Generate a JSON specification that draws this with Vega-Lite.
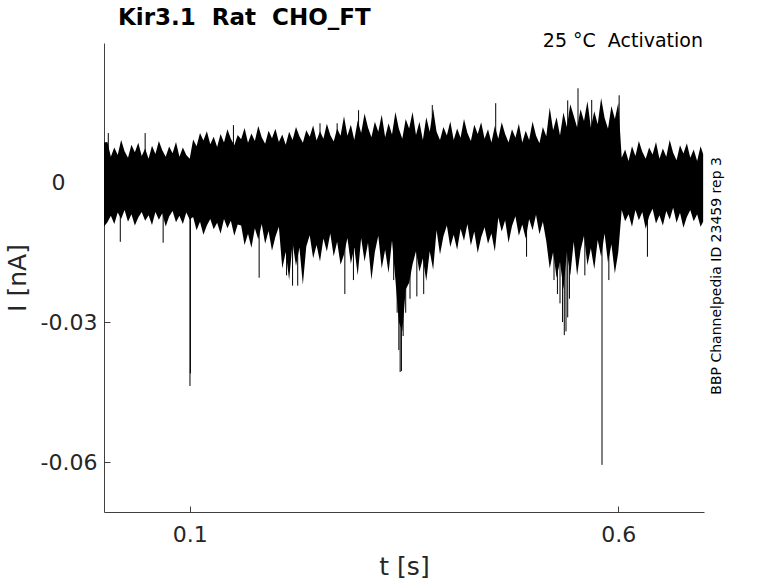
{
  "$schema": "https://vega.github.io/schema/vega-lite/v6.json",
  "width": 600,
  "height": 469,
  "autosize": {"type": "none"},
  "padding": {"left": 104, "top": 43, "right": 74, "bottom": 71},
  "background": "white",
  "title": {
    "text": "Kir3.1\u00a0\u00a0Rat\u00a0\u00a0CHO_FT",
    "anchor": "start",
    "frame": "group",
    "dx": 14,
    "offset": 2,
    "fontSize": 23,
    "fontWeight": "bold",
    "color": "black"
  },
  "datasets": {
    "band": [
      {"t": 0.000, "hi": 0.0085, "lo": -0.0095},
      {"t": 0.004, "hi": 0.0086, "lo": -0.0086},
      {"t": 0.008, "hi": 0.0054, "lo": -0.0072},
      {"t": 0.012, "hi": 0.0074, "lo": -0.0090},
      {"t": 0.016, "hi": 0.0058, "lo": -0.0065},
      {"t": 0.020, "hi": 0.0090, "lo": -0.0079},
      {"t": 0.024, "hi": 0.0066, "lo": -0.0060},
      {"t": 0.028, "hi": 0.0052, "lo": -0.0085},
      {"t": 0.032, "hi": 0.0080, "lo": -0.0069},
      {"t": 0.036, "hi": 0.0064, "lo": -0.0093},
      {"t": 0.040, "hi": 0.0084, "lo": -0.0076},
      {"t": 0.044, "hi": 0.0056, "lo": -0.0064},
      {"t": 0.048, "hi": 0.0072, "lo": -0.0083},
      {"t": 0.052, "hi": 0.0050, "lo": -0.0071},
      {"t": 0.056, "hi": 0.0078, "lo": -0.0092},
      {"t": 0.060, "hi": 0.0060, "lo": -0.0064},
      {"t": 0.064, "hi": 0.0088, "lo": -0.0081},
      {"t": 0.068, "hi": 0.0068, "lo": -0.0067},
      {"t": 0.072, "hi": 0.0054, "lo": -0.0095},
      {"t": 0.076, "hi": 0.0076, "lo": -0.0074},
      {"t": 0.080, "hi": 0.0062, "lo": -0.0062},
      {"t": 0.084, "hi": 0.0086, "lo": -0.0086},
      {"t": 0.088, "hi": 0.0054, "lo": -0.0072},
      {"t": 0.092, "hi": 0.0074, "lo": -0.0090},
      {"t": 0.096, "hi": 0.0058, "lo": -0.0065},
      {"t": 0.100, "hi": 0.0050, "lo": -0.0080},
      {"t": 0.104, "hi": 0.0091, "lo": -0.0075},
      {"t": 0.108, "hi": 0.0077, "lo": -0.0103},
      {"t": 0.112, "hi": 0.0105, "lo": -0.0085},
      {"t": 0.116, "hi": 0.0089, "lo": -0.0113},
      {"t": 0.120, "hi": 0.0109, "lo": -0.0093},
      {"t": 0.124, "hi": 0.0081, "lo": -0.0079},
      {"t": 0.128, "hi": 0.0097, "lo": -0.0101},
      {"t": 0.132, "hi": 0.0075, "lo": -0.0087},
      {"t": 0.136, "hi": 0.0103, "lo": -0.0111},
      {"t": 0.140, "hi": 0.0085, "lo": -0.0079},
      {"t": 0.144, "hi": 0.0113, "lo": -0.0099},
      {"t": 0.148, "hi": 0.0093, "lo": -0.0083},
      {"t": 0.152, "hi": 0.0079, "lo": -0.0115},
      {"t": 0.156, "hi": 0.0101, "lo": -0.0091},
      {"t": 0.160, "hi": 0.0092, "lo": -0.0093},
      {"t": 0.164, "hi": 0.0116, "lo": -0.0135},
      {"t": 0.168, "hi": 0.0084, "lo": -0.0111},
      {"t": 0.172, "hi": 0.0104, "lo": -0.0141},
      {"t": 0.176, "hi": 0.0088, "lo": -0.0099},
      {"t": 0.180, "hi": 0.0120, "lo": -0.0123},
      {"t": 0.184, "hi": 0.0096, "lo": -0.0090},
      {"t": 0.188, "hi": 0.0082, "lo": -0.0132},
      {"t": 0.192, "hi": 0.0110, "lo": -0.0105},
      {"t": 0.196, "hi": 0.0094, "lo": -0.0147},
      {"t": 0.200, "hi": 0.0114, "lo": -0.0117},
      {"t": 0.204, "hi": 0.0086, "lo": -0.0096},
      {"t": 0.208, "hi": 0.0102, "lo": -0.0185},
      {"t": 0.212, "hi": 0.0080, "lo": -0.0150},
      {"t": 0.216, "hi": 0.0108, "lo": -0.0210},
      {"t": 0.220, "hi": 0.0090, "lo": -0.0130},
      {"t": 0.224, "hi": 0.0118, "lo": -0.0180},
      {"t": 0.228, "hi": 0.0098, "lo": -0.0140},
      {"t": 0.232, "hi": 0.0084, "lo": -0.0220},
      {"t": 0.236, "hi": 0.0111, "lo": -0.0138},
      {"t": 0.240, "hi": 0.0097, "lo": -0.0114},
      {"t": 0.244, "hi": 0.0121, "lo": -0.0163},
      {"t": 0.248, "hi": 0.0089, "lo": -0.0135},
      {"t": 0.252, "hi": 0.0109, "lo": -0.0170},
      {"t": 0.256, "hi": 0.0093, "lo": -0.0121},
      {"t": 0.260, "hi": 0.0125, "lo": -0.0149},
      {"t": 0.264, "hi": 0.0101, "lo": -0.0110},
      {"t": 0.268, "hi": 0.0087, "lo": -0.0159},
      {"t": 0.272, "hi": 0.0115, "lo": -0.0128},
      {"t": 0.276, "hi": 0.0099, "lo": -0.0177},
      {"t": 0.280, "hi": 0.0141, "lo": -0.0155},
      {"t": 0.284, "hi": 0.0099, "lo": -0.0120},
      {"t": 0.288, "hi": 0.0123, "lo": -0.0175},
      {"t": 0.292, "hi": 0.0090, "lo": -0.0140},
      {"t": 0.296, "hi": 0.0132, "lo": -0.0200},
      {"t": 0.300, "hi": 0.0105, "lo": -0.0120},
      {"t": 0.304, "hi": 0.0147, "lo": -0.0170},
      {"t": 0.308, "hi": 0.0117, "lo": -0.0130},
      {"t": 0.312, "hi": 0.0096, "lo": -0.0210},
      {"t": 0.316, "hi": 0.0129, "lo": -0.0150},
      {"t": 0.320, "hi": 0.0108, "lo": -0.0115},
      {"t": 0.324, "hi": 0.0144, "lo": -0.0185},
      {"t": 0.328, "hi": 0.0096, "lo": -0.0145},
      {"t": 0.332, "hi": 0.0126, "lo": -0.0195},
      {"t": 0.336, "hi": 0.0102, "lo": -0.0125},
      {"t": 0.340, "hi": 0.0150, "lo": -0.0210},
      {"t": 0.344, "hi": 0.0114, "lo": -0.0300},
      {"t": 0.348, "hi": 0.0093, "lo": -0.0320},
      {"t": 0.352, "hi": 0.0135, "lo": -0.0230},
      {"t": 0.356, "hi": 0.0115, "lo": -0.0216},
      {"t": 0.360, "hi": 0.0150, "lo": -0.0176},
      {"t": 0.364, "hi": 0.0101, "lo": -0.0148},
      {"t": 0.368, "hi": 0.0129, "lo": -0.0192},
      {"t": 0.372, "hi": 0.0090, "lo": -0.0164},
      {"t": 0.376, "hi": 0.0139, "lo": -0.0212},
      {"t": 0.380, "hi": 0.0108, "lo": -0.0148},
      {"t": 0.384, "hi": 0.0157, "lo": -0.0188},
      {"t": 0.388, "hi": 0.0108, "lo": -0.0103},
      {"t": 0.392, "hi": 0.0090, "lo": -0.0155},
      {"t": 0.396, "hi": 0.0118, "lo": -0.0116},
      {"t": 0.400, "hi": 0.0100, "lo": -0.0093},
      {"t": 0.404, "hi": 0.0130, "lo": -0.0139},
      {"t": 0.408, "hi": 0.0090, "lo": -0.0113},
      {"t": 0.412, "hi": 0.0115, "lo": -0.0145},
      {"t": 0.416, "hi": 0.0095, "lo": -0.0100},
      {"t": 0.420, "hi": 0.0135, "lo": -0.0126},
      {"t": 0.424, "hi": 0.0105, "lo": -0.0090},
      {"t": 0.428, "hi": 0.0088, "lo": -0.0136},
      {"t": 0.432, "hi": 0.0123, "lo": -0.0106},
      {"t": 0.436, "hi": 0.0103, "lo": -0.0152},
      {"t": 0.440, "hi": 0.0128, "lo": -0.0119},
      {"t": 0.444, "hi": 0.0093, "lo": -0.0097},
      {"t": 0.448, "hi": 0.0113, "lo": -0.0132},
      {"t": 0.452, "hi": 0.0085, "lo": -0.0110},
      {"t": 0.456, "hi": 0.0120, "lo": -0.0149},
      {"t": 0.460, "hi": 0.0093, "lo": -0.0076},
      {"t": 0.464, "hi": 0.0128, "lo": -0.0106},
      {"t": 0.468, "hi": 0.0103, "lo": -0.0082},
      {"t": 0.472, "hi": 0.0085, "lo": -0.0130},
      {"t": 0.476, "hi": 0.0113, "lo": -0.0094},
      {"t": 0.480, "hi": 0.0095, "lo": -0.0073},
      {"t": 0.484, "hi": 0.0125, "lo": -0.0115},
      {"t": 0.488, "hi": 0.0085, "lo": -0.0091},
      {"t": 0.492, "hi": 0.0110, "lo": -0.0121},
      {"t": 0.496, "hi": 0.0090, "lo": -0.0079},
      {"t": 0.500, "hi": 0.0130, "lo": -0.0103},
      {"t": 0.504, "hi": 0.0100, "lo": -0.0070},
      {"t": 0.508, "hi": 0.0083, "lo": -0.0112},
      {"t": 0.512, "hi": 0.0118, "lo": -0.0085},
      {"t": 0.516, "hi": 0.0098, "lo": -0.0127},
      {"t": 0.520, "hi": 0.0160, "lo": -0.0185},
      {"t": 0.524, "hi": 0.0111, "lo": -0.0150},
      {"t": 0.528, "hi": 0.0139, "lo": -0.0205},
      {"t": 0.532, "hi": 0.0100, "lo": -0.0170},
      {"t": 0.536, "hi": 0.0149, "lo": -0.0230},
      {"t": 0.540, "hi": 0.0118, "lo": -0.0150},
      {"t": 0.544, "hi": 0.0167, "lo": -0.0200},
      {"t": 0.548, "hi": 0.0142, "lo": -0.0128},
      {"t": 0.552, "hi": 0.0117, "lo": -0.0200},
      {"t": 0.556, "hi": 0.0156, "lo": -0.0146},
      {"t": 0.560, "hi": 0.0131, "lo": -0.0115},
      {"t": 0.564, "hi": 0.0173, "lo": -0.0178},
      {"t": 0.568, "hi": 0.0117, "lo": -0.0142},
      {"t": 0.572, "hi": 0.0152, "lo": -0.0187},
      {"t": 0.576, "hi": 0.0124, "lo": -0.0124},
      {"t": 0.580, "hi": 0.0180, "lo": -0.0160},
      {"t": 0.584, "hi": 0.0138, "lo": -0.0110},
      {"t": 0.588, "hi": 0.0114, "lo": -0.0173},
      {"t": 0.592, "hi": 0.0163, "lo": -0.0133},
      {"t": 0.596, "hi": 0.0135, "lo": -0.0196},
      {"t": 0.600, "hi": 0.0170, "lo": -0.0150},
      {"t": 0.604, "hi": 0.0052, "lo": -0.0060},
      {"t": 0.608, "hi": 0.0070, "lo": -0.0084},
      {"t": 0.612, "hi": 0.0045, "lo": -0.0069},
      {"t": 0.616, "hi": 0.0077, "lo": -0.0096},
      {"t": 0.620, "hi": 0.0056, "lo": -0.0060},
      {"t": 0.624, "hi": 0.0088, "lo": -0.0082},
      {"t": 0.628, "hi": 0.0065, "lo": -0.0064},
      {"t": 0.632, "hi": 0.0050, "lo": -0.0100},
      {"t": 0.636, "hi": 0.0074, "lo": -0.0073},
      {"t": 0.640, "hi": 0.0059, "lo": -0.0057},
      {"t": 0.644, "hi": 0.0086, "lo": -0.0089},
      {"t": 0.648, "hi": 0.0050, "lo": -0.0071},
      {"t": 0.652, "hi": 0.0072, "lo": -0.0093},
      {"t": 0.656, "hi": 0.0054, "lo": -0.0062},
      {"t": 0.660, "hi": 0.0090, "lo": -0.0080},
      {"t": 0.664, "hi": 0.0063, "lo": -0.0055},
      {"t": 0.668, "hi": 0.0047, "lo": -0.0087},
      {"t": 0.672, "hi": 0.0079, "lo": -0.0066},
      {"t": 0.676, "hi": 0.0061, "lo": -0.0098},
      {"t": 0.680, "hi": 0.0083, "lo": -0.0075},
      {"t": 0.684, "hi": 0.0052, "lo": -0.0060},
      {"t": 0.688, "hi": 0.0070, "lo": -0.0084},
      {"t": 0.692, "hi": 0.0045, "lo": -0.0069},
      {"t": 0.696, "hi": 0.0077, "lo": -0.0096},
      {"t": 0.699, "hi": 0.0060, "lo": -0.0085}
    ],
    "spikes": [
      {"t": 0.005, "top": 0.0105, "bottom": 0},
      {"t": 0.048, "top": 0.0105, "bottom": 0},
      {"t": 0.151, "top": 0.0122, "bottom": 0},
      {"t": 0.252, "top": 0.0126, "bottom": 0},
      {"t": 0.272, "top": 0.0126, "bottom": 0},
      {"t": 0.297, "top": 0.0154, "bottom": 0},
      {"t": 0.383, "top": 0.0165, "bottom": 0},
      {"t": 0.457, "top": 0.0169, "bottom": 0},
      {"t": 0.541, "top": 0.0175, "bottom": 0},
      {"t": 0.553, "top": 0.0201, "bottom": 0},
      {"t": 0.569, "top": 0.0176, "bottom": 0},
      {"t": 0.601, "top": 0.0186, "bottom": 0},
      {"t": 0.019, "top": 0, "bottom": -0.0128},
      {"t": 0.069, "top": 0, "bottom": -0.0130},
      {"t": 0.1003, "top": 0, "bottom": -0.0437},
      {"t": 0.1008, "top": 0, "bottom": -0.0410},
      {"t": 0.181, "top": 0, "bottom": -0.0205},
      {"t": 0.213, "top": 0, "bottom": -0.0200},
      {"t": 0.220, "top": 0, "bottom": -0.0222},
      {"t": 0.226, "top": 0, "bottom": -0.0222},
      {"t": 0.281, "top": 0, "bottom": -0.0240},
      {"t": 0.291, "top": 0, "bottom": -0.0210},
      {"t": 0.338, "top": 0, "bottom": -0.0210},
      {"t": 0.342, "top": 0, "bottom": -0.0280},
      {"t": 0.344, "top": 0, "bottom": -0.0360},
      {"t": 0.3455, "top": 0, "bottom": -0.0407},
      {"t": 0.347, "top": 0, "bottom": -0.0405},
      {"t": 0.349, "top": 0, "bottom": -0.0330},
      {"t": 0.352, "top": 0, "bottom": -0.0280},
      {"t": 0.357, "top": 0, "bottom": -0.0250},
      {"t": 0.365, "top": 0, "bottom": -0.0245},
      {"t": 0.373, "top": 0, "bottom": -0.0240},
      {"t": 0.493, "top": 0, "bottom": -0.0160},
      {"t": 0.525, "top": 0, "bottom": -0.0210},
      {"t": 0.529, "top": 0, "bottom": -0.0240},
      {"t": 0.532, "top": 0, "bottom": -0.0260},
      {"t": 0.535, "top": 0, "bottom": -0.0300},
      {"t": 0.537, "top": 0, "bottom": -0.0328},
      {"t": 0.539, "top": 0, "bottom": -0.0320},
      {"t": 0.541, "top": 0, "bottom": -0.0290},
      {"t": 0.543, "top": 0, "bottom": -0.0250},
      {"t": 0.561, "top": 0, "bottom": -0.0200},
      {"t": 0.581, "top": 0, "bottom": -0.0606},
      {"t": 0.589, "top": 0, "bottom": -0.0210},
      {"t": 0.634, "top": 0, "bottom": -0.0160}
    ],
    "note": [{}]
  },
  "layer": [
    {
      "data": {"name": "band"},
      "mark": {"type": "area", "color": "black", "opacity": 1},
      "encoding": {
        "x": {
          "field": "t",
          "type": "quantitative",
          "scale": {"domain": [0, 0.7], "nice": false, "zero": false},
          "axis": {
            "values": [0.1, 0.6],
            "format": ".1f",
            "title": "t [s]",
            "tickSize": -6,
            "labelPadding": 18,
            "titlePadding": 9
          }
        },
        "y": {
          "field": "hi",
          "type": "quantitative",
          "scale": {"domain": [-0.0707, 0.0298], "nice": false, "zero": false},
          "axis": {
            "values": [0, -0.03, -0.06],
            "labelExpr": "datum.value == 0 ? '0' : '-' + format(-datum.value, '.2f')",
            "labelPadding": {"condition": {"test": "datum.value == 0", "value": 45}, "value": 13},
            "title": "I [nA]",
            "tickSize": -6,
            "titlePadding": 10
          }
        },
        "y2": {"field": "lo"}
      }
    },
    {
      "data": {"name": "spikes"},
      "mark": {"type": "rule", "color": "black", "strokeWidth": 1},
      "encoding": {
        "x": {"field": "t", "type": "quantitative"},
        "y": {"field": "top", "type": "quantitative"},
        "y2": {"field": "bottom"}
      }
    },
    {
      "data": {"name": "note"},
      "mark": {
        "type": "text",
        "text": "25 °C\u00a0\u00a0Activation",
        "align": "right",
        "baseline": "alphabetic",
        "fontSize": 19,
        "color": "black",
        "dx": -1,
        "dy": 4
      },
      "encoding": {
        "x": {"datum": 0.7, "type": "quantitative"},
        "y": {"datum": 0.0298, "type": "quantitative"}
      }
    },
    {
      "data": {"name": "note"},
      "mark": {
        "type": "text",
        "text": "BBP Channelpedia ID 23459 rep 3",
        "angle": 270,
        "align": "center",
        "baseline": "top",
        "fontSize": 14,
        "color": "black",
        "dy": 6
      },
      "encoding": {
        "x": {"datum": 0.7, "type": "quantitative"},
        "y": {"datum": -0.0201, "type": "quantitative"}
      }
    }
  ],
  "config": {
    "font": "DejaVu Sans",
    "view": {"stroke": null},
    "axis": {
      "grid": false,
      "domainColor": "#404040",
      "domainWidth": 1,
      "tickColor": "#404040",
      "tickWidth": 1,
      "labelFontSize": 22,
      "labelColor": "#262626",
      "labelFont": "DejaVu Sans",
      "titleFontSize": 25,
      "titleFontWeight": "normal",
      "titleColor": "#262626",
      "titleFont": "DejaVu Sans"
    }
  }
}
